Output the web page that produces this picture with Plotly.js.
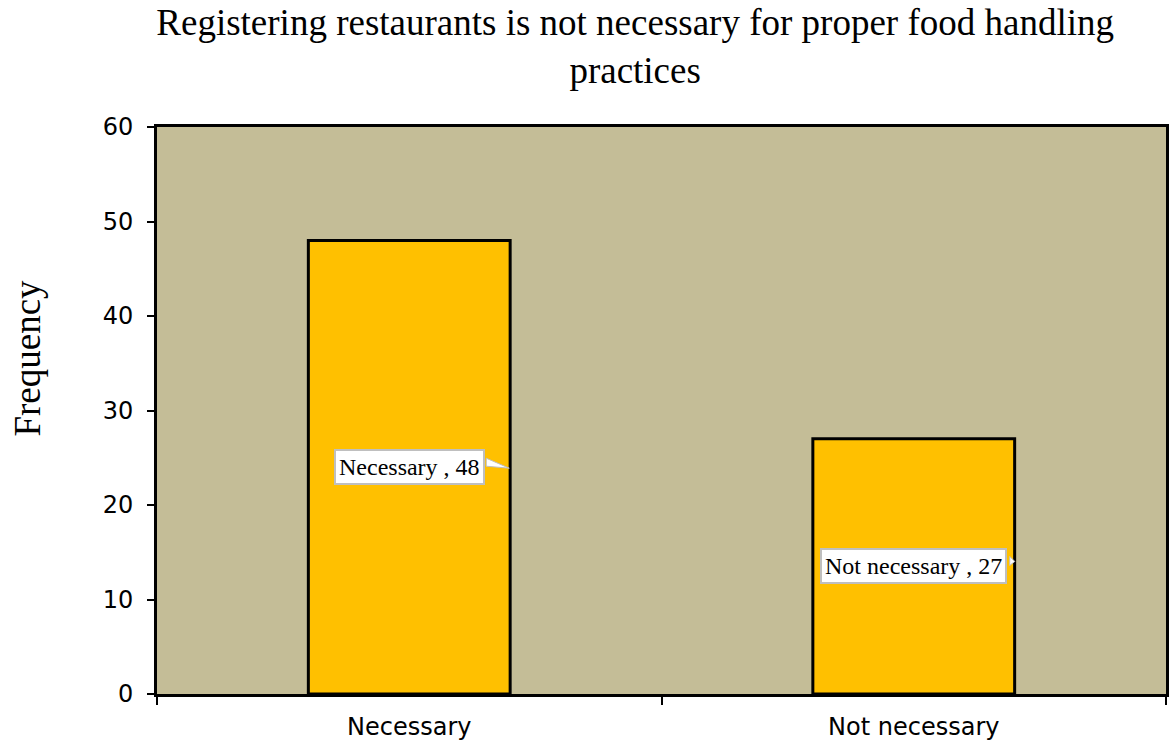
<!DOCTYPE html>
<html>
<head>
<meta charset="utf-8">
<script src="https://cdn.plot.ly/plotly-3.0.1.min.js"></script>
<style>html,body{margin:0;padding:0;background:#fff;}#chart{width:1174px;height:744px;}</style>
</head>
<body>
<div id="chart"></div>
<script>
const categories = ["Necessary", "Not necessary"];
const frequencies = [48, 27];
const labelTexts = ["Necessary , 48", "Not necessary , 27"];
const yTickValues = [0, 10, 20, 30, 40, 50, 60];

const trace = {
  type: "bar",
  x: categories,
  y: frequencies,
  marker: { color: "#FFC000", line: { color: "#000000", width: 3 } },
  hoverinfo: "x+y"
};

const annotations = categories.map((c, i) => ({
  x: c, y: frequencies[i] / 2, xref: "x", yref: "y",
  text: labelTexts[i], showarrow: false,
  font: { family: "Liberation Serif, Times New Roman, serif", size: 24, color: "#000" },
  bgcolor: "#ffffff", bordercolor: "#BFBFBF", borderwidth: 2, borderpad: 3
}));
annotations.push({
  text: "Frequency", xref: "paper", yref: "paper", x: -0.128, y: 0.593,
  textangle: -90, showarrow: false, xanchor: "center", yanchor: "middle",
  font: { family: "Liberation Serif, Times New Roman, serif", size: 37, color: "#000" }
});

const wedgePaths = ["M 77,9 L 100,-1 L 77,1 Z", "M 96,10 L 101,5 L 96,1 Z"];
const shapes = categories.map((c, i) => ({
  type: "path", xref: "x", yref: "y", xsizemode: "pixel", ysizemode: "pixel",
  xanchor: i, yanchor: frequencies[i] / 2,
  path: wedgePaths[i],
  fillcolor: "#ffffff", line: { color: "#BFBFBF", width: 1 }
}));

const layout = {
  width: 1174, height: 744,
  margin: { l: 157, r: 8, t: 127, b: 50 },
  paper_bgcolor: "#ffffff",
  plot_bgcolor: "#C4BD97",
  title: {
    text: "Registering restaurants is not necessary for proper food handling<br>practices",
    font: { family: "Liberation Serif, Times New Roman, serif", size: 37, color: "#000" },
    x: 0.541, xref: "container", xanchor: "center",
    y: 0.953, yref: "container", yanchor: "middle"
  },
  bargap: 0.6,
  showlegend: false,
  xaxis: {
    type: "category",
    showline: true, linecolor: "#000", linewidth: 3, mirror: true,
    ticks: "outside", tickson: "boundaries", ticklen: 8, tickwidth: 2, tickcolor: "#000",
    showgrid: false, zeroline: false,
    tickfont: { family: "DejaVu Sans, Verdana, sans-serif", size: 24, color: "#000" },
    ticklabelstandoff: 9
  },
  yaxis: {
    range: [0, 60], tickvals: yTickValues,
    showline: true, linecolor: "#000", linewidth: 3, mirror: true,
    ticks: "outside", ticklen: 7, tickwidth: 2, tickcolor: "#000",
    showgrid: false, zeroline: false,
    tickfont: { family: "DejaVu Sans, Verdana, sans-serif", size: 24, color: "#000" },
    ticklabelstandoff: 9
  },
  annotations: annotations,
  shapes: shapes
};

Plotly.newPlot("chart", [trace], layout, { displayModeBar: false, staticPlot: true });
</script>
</body>
</html>
